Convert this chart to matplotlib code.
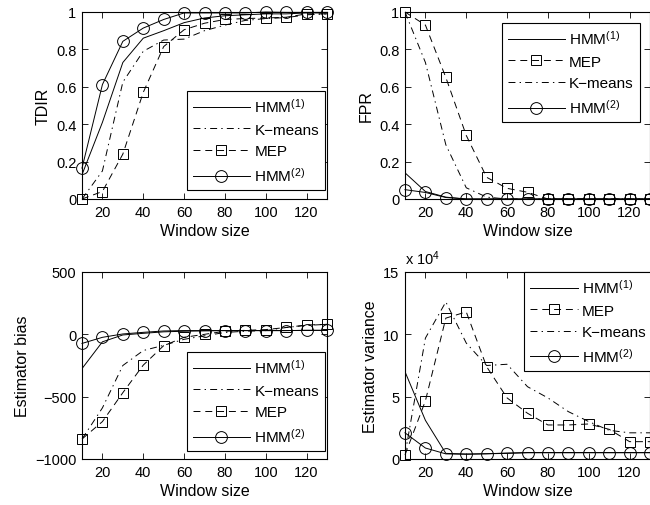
import matplotlib
matplotlib.use('Agg')
import matplotlib.pyplot as plt
from matplotlib.ticker import FormatStrFormatter

plt.rcParams['font.family'] = ['Liberation Sans', 'DejaVu Sans']
plt.rcParams['mathtext.default'] = 'regular'
plt.rcParams['lines.scale_dashes'] = False

# window sizes
window = [10, 20, 30, 40, 50, 60, 70, 80, 90, 100, 110, 120, 130]

# TDIR
tdir_hmm1 = [0.13, 0.41, 0.73, 0.86, 0.90, 0.943, 0.968, 0.98, 0.985, 0.99, 0.99, 0.995, 0.995]
tdir_kmeans = [0.0, 0.15, 0.625, 0.79, 0.85, 0.855, 0.9, 0.93, 0.955, 0.965, 0.97, 0.985, 0.99]
tdir_mep = [0.0, 0.04, 0.24, 0.57, 0.815, 0.905, 0.94, 0.96, 0.965, 0.968, 0.972, 0.99, 0.99]
tdir_hmm2 = [0.165, 0.612, 0.843, 0.914, 0.96, 0.995, 0.995, 0.995, 0.995, 1.0, 0.998, 0.998, 0.998]

# FPR
fpr_hmm1 = [0.14, 0.04, 0.01, 0.0, 0.0, 0.0, 0.0, 0.0, 0.0, 0.0, 0.0, 0.0, 0.0]
fpr_mep = [1.0, 0.93, 0.65, 0.34, 0.116, 0.057, 0.036, 0.0, 0.0, 0.0, 0.0, 0.0, 0.0]
fpr_kmeans = [1.0, 0.73, 0.29, 0.06, 0.01, 0.0, 0.0, 0.0, 0.0, 0.0, 0.0, 0.0, 0.0]
fpr_hmm2 = [0.05, 0.035, 0.008, 0.0, 0.0, 0.0, 0.0, 0.0, 0.0, 0.0, 0.0, 0.0, 0.0]

# estimator bias
bias_hmm1 = [-275, -60, -5, 8, 20, 25, 28, 30, 30, 30, 30, 32, 32]
bias_kmeans = [-840, -590, -250, -130, -88, -40, -12, 15, 25, 30, 55, 72, 80]
bias_mep = [-840, -700, -468, -247, -91, -24, 0, 25, 32, 38, 55, 75, 80]
bias_hmm2 = [-73, -24, 3, 16, 27, 30, 30, 30, 30, 30, 30, 32, 32]

# estimator variance (x 1e4)
var_hmm1 = [7.0, 3.1, 0.45, 0.4, 0.42, 0.45, 0.5, 0.5, 0.5, 0.5, 0.5, 0.5, 0.5]
var_mep = [0.33, 4.67, 11.3, 11.8, 7.4, 4.9, 3.67, 2.73, 2.73, 2.81, 2.38, 1.39, 1.39]
var_kmeans = [0.35, 9.7, 12.6, 9.3, 7.5, 7.6, 5.8, 4.9, 3.8, 3.0, 2.3, 2.1, 2.1]
var_hmm2 = [2.1, 0.88, 0.41, 0.38, 0.42, 0.48, 0.52, 0.52, 0.52, 0.52, 0.52, 0.52, 0.52]

lw = 0.7
dashed = (0, (5, 3.5))
dashdot = (0, (5, 3, 1, 3))

styles = {
    'hmm1': dict(color='k', lw=lw, ls='-', label='HMM$^{(1)}$'),
    'kmeans': dict(color='k', lw=lw, ls=dashdot, label='K\u2212means'),
    'mep': dict(color='k', lw=lw, ls=dashed, marker='s', ms=7, mfc='none', mew=0.7,
                label='MEP', clip_on=False),
    'hmm2': dict(color='k', lw=lw, ls='-', marker='o', ms=8.5, mfc='none', mew=0.7,
                 label='HMM$^{(2)}$', clip_on=False),
}

fig = plt.figure(figsize=(6.5, 5.06), dpi=100)
W, H = 650.0, 506.0


def make_axes(x0, y_top, y_bot):
    return fig.add_axes([x0 / W, 1 - y_bot / H, 245 / W, (y_bot - y_top) / H])


def style_axes(ax, ylabel):
    ax.set_xlim(10, 130)
    ax.set_xticks([20, 40, 60, 80, 100, 120])
    ax.tick_params(direction='in', top=True, right=True, length=4, width=0.6,
                   labelsize=10.5, pad=4)
    for s in ax.spines.values():
        s.set_linewidth(0.8)
    ax.set_xlabel('Window size', fontsize=11.5, labelpad=3)
    ax.set_ylabel(ylabel, fontsize=11.5, labelpad=4)


def add_legend(ax, loc, anchor, hl=3.7):
    leg = ax.legend(loc=loc, bbox_to_anchor=anchor, borderaxespad=0, fontsize=11,
                    handlelength=hl, handletextpad=0.3, labelspacing=0.5,
                    borderpad=0.4, fancybox=False, framealpha=1, edgecolor='k')
    leg.get_frame().set_linewidth(0.8)
    leg.set_zorder(5)


# TDIR
ax1 = make_axes(82, 13, 200)
ax1.plot(window, tdir_hmm1, **styles['hmm1'])
ax1.plot(window, tdir_kmeans, **styles['kmeans'])
ax1.plot(window, tdir_mep, **styles['mep'])
ax1.plot(window, tdir_hmm2, **styles['hmm2'])
ax1.set_ylim(0, 1)
ax1.set_yticks([0, 0.2, 0.4, 0.6, 0.8, 1])
ax1.yaxis.set_major_formatter(FormatStrFormatter('%g'))
style_axes(ax1, 'TDIR')
add_legend(ax1, 'lower right', (0.992, 0.048))

# FPR
ax2 = make_axes(405, 13, 200)
ax2.plot(window, fpr_hmm1, **styles['hmm1'])
ax2.plot(window, fpr_mep, **styles['mep'])
ax2.plot(window, fpr_kmeans, **styles['kmeans'])
ax2.plot(window, fpr_hmm2, **styles['hmm2'])
ax2.set_ylim(0, 1)
ax2.set_yticks([0, 0.2, 0.4, 0.6, 0.8, 1])
ax2.yaxis.set_major_formatter(FormatStrFormatter('%g'))
style_axes(ax2, 'FPR')
add_legend(ax2, 'upper right', (0.959, 0.941))

# estimator bias
ax3 = make_axes(82, 273, 460)
ax3.plot(window, bias_hmm1, **styles['hmm1'])
ax3.plot(window, bias_kmeans, **styles['kmeans'])
ax3.plot(window, bias_mep, **styles['mep'])
ax3.plot(window, bias_hmm2, **styles['hmm2'])
ax3.set_ylim(-1000, 500)
ax3.set_yticks([-1000, -500, 0, 500])
style_axes(ax3, 'Estimator bias')
add_legend(ax3, 'lower right', (0.992, 0.043))

# estimator variance
ax4 = make_axes(405, 273, 460)
ax4.plot(window, var_hmm1, **styles['hmm1'])
ax4.plot(window, var_mep, **styles['mep'])
ax4.plot(window, var_kmeans, **styles['kmeans'])
ax4.plot(window, var_hmm2, **styles['hmm2'])
ax4.set_ylim(0, 15)
ax4.set_yticks([0, 5, 10, 15])
style_axes(ax4, 'Estimator variance')
ax4.text(0.0, 1.025, 'x 10$^{4}$', transform=ax4.transAxes, fontsize=10.5,
         ha='left', va='bottom')
add_legend(ax4, 'upper left', (0.486, 1.0), hl=3.1)

fig.savefig('out.png', dpi=100)
